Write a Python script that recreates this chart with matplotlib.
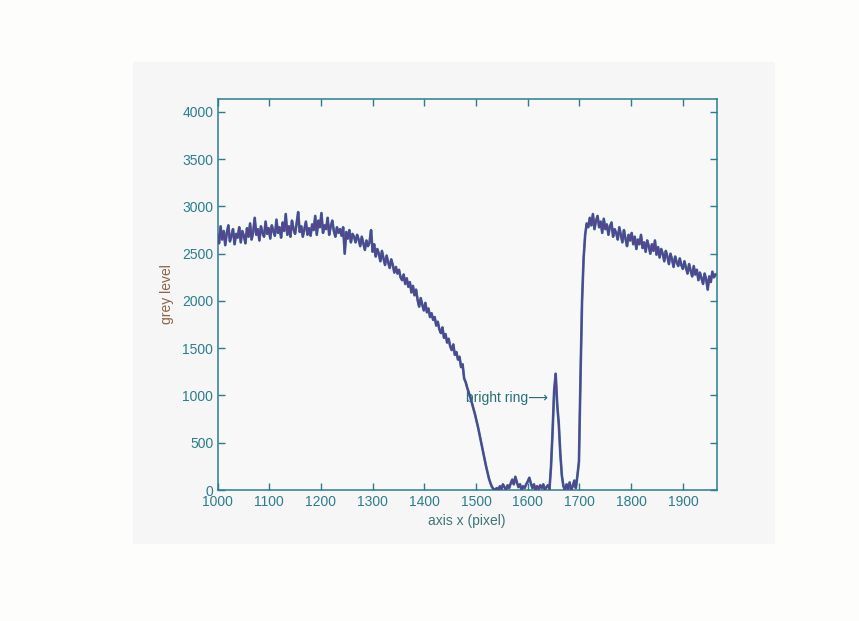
import numpy as np
import matplotlib
matplotlib.use("Agg")
import matplotlib.pyplot as plt
from matplotlib.patches import Rectangle

# ---- data, one value every 3 pixels ----
x_start = 1000
x_step = 3
grey_a = [2700, 2610, 2790, 2650, 2740, 2590, 2720, 2800, 2630, 2690,
          2760, 2600, 2710, 2670, 2780, 2620, 2740, 2690, 2610, 2770]
grey_b = [2680, 2820, 2650, 2730, 2880, 2700, 2760, 2640, 2790, 2720,
          2680, 2840, 2710, 2770, 2660, 2800, 2740, 2690, 2860, 2720]
grey_c = [2780, 2670, 2830, 2740, 2920, 2700, 2790, 2680, 2850, 2760,
          2710, 2820, 2940, 2730, 2790, 2680, 2760, 2840, 2700, 2770]
grey_d = [2690, 2810, 2750, 2900, 2700, 2850, 2780, 2930, 2720, 2800,
          2760, 2880, 2700, 2790, 2850, 2740, 2680, 2780, 2720, 2760]
grey_e = [2690, 2780, 2500, 2730, 2660, 2750, 2620, 2710, 2680, 2620,
          2700, 2650, 2580, 2680, 2610, 2540, 2640, 2580, 2620, 2750]
grey_f = [2520, 2600, 2470, 2550, 2500, 2420, 2530, 2450, 2380, 2480,
          2410, 2350, 2440, 2380, 2300, 2360, 2290, 2330, 2250, 2220]
grey_g = [2280, 2180, 2240, 2150, 2200, 2090, 2160, 2060, 2120, 2010,
          1940, 2030, 1960, 1900, 1980, 1880, 1920, 1830, 1870, 1800]
grey_h = [1830, 1740, 1780, 1700, 1660, 1720, 1610, 1650, 1560, 1600,
          1520, 1480, 1540, 1430, 1460, 1380, 1410, 1300, 1330, 1180]
grey_i = [1140, 1080, 1030, 980, 920, 860, 800, 730, 660, 580,
          500, 420, 340, 260, 190, 120, 70, 30, 10, 0]
grey_j = [20, 0, 40, 10, 60, 30, 0, 50, 20, 70,
          110, 60, 140, 80, 30, 60, 0, 40, 20, 60]
grey_k = [90, 130, 70, 20, 60, 0, 40, 10, 50, 20,
          60, 0, 30, 50, 10, 250, 620, 1050, 1230, 900]
grey_l = [700, 380, 150, 40, 0, 60, 10, 80, 0, 40,
          100, 20, 150, 300, 1200, 2000, 2450, 2700, 2820, 2780]
grey_m = [2880, 2800, 2920, 2760, 2850, 2900, 2780, 2840, 2720, 2870,
          2760, 2810, 2700, 2790, 2830, 2680, 2760, 2720, 2650, 2780]
grey_n = [2700, 2620, 2750, 2660, 2580, 2700, 2640, 2720, 2600, 2680,
          2550, 2650, 2600, 2700, 2560, 2620, 2520, 2640, 2580, 2500]
grey_o = [2600, 2530, 2640, 2490, 2570, 2460, 2550, 2500, 2420, 2530,
          2470, 2390, 2500, 2440, 2360, 2470, 2410, 2370, 2450, 2380]
grey_p = [2340, 2420, 2350, 2290, 2390, 2320, 2260, 2370, 2280, 2330,
          2220, 2300, 2240, 2180, 2290, 2230, 2120, 2260, 2200, 2310,
          2250, 2280]

x_ticks = [1000, 1100, 1200, 1300, 1400, 1500, 1600, 1700, 1800, 1900]
y_ticks = [0, 500, 1000, 1500, 2000, 2500, 3000, 3500, 4000]
annotation = "bright ring\u27f6"
annotation_pos = (1480, 975)

grey = (grey_a + grey_b + grey_c + grey_d + grey_e + grey_f + grey_g +
        grey_h + grey_i + grey_j + grey_k + grey_l + grey_m + grey_n +
        grey_o + grey_p)
xs = x_start + x_step * np.arange(len(grey))

# ---- styling ----
teal = "#2b7d8c"
fam = ["Liberation Sans", "DejaVu Sans"]
plt.rcParams["font.family"] = fam

fig = plt.figure(figsize=(8.59, 6.21), dpi=100, facecolor="#fdfdfb")
fig.patches.append(Rectangle((133 / 859, 1 - 544 / 621), (775 - 133) / 859,
                             (544 - 62) / 621, transform=fig.transFigure,
                             facecolor="#f6f6f6", edgecolor="none", zorder=-5))

ax = fig.add_axes([217.5 / 859, 1 - 490 / 621, (716.5 - 217.5) / 859,
                   (490 - 99) / 621])
ax.set_zorder(1)
ax.set_facecolor("#f8f8f8")

ax.plot(xs, grey, color="#2f86a0", lw=1.9, zorder=2)
ax.plot(xs, grey, color="#55448f", lw=1.4, zorder=3)

ax.set_xlim(1000, 1965)
ax.set_ylim(0, 4137)
ax.set_xticks(x_ticks)
ax.set_yticks(y_ticks)
ax.tick_params(direction="in", top=True, right=True, length=5, width=1,
               color=teal, labelcolor=teal, labelsize=10)
ax.tick_params(axis="y", pad=3)
for s in ax.spines.values():
    s.set_color(teal)
    s.set_linewidth(1.1)

ax.set_xlabel("axis x (pixel)", color="#3f7478", fontsize=10, labelpad=4)
ax.set_ylabel("grey level", color="#8a6448", fontsize=10, labelpad=6)

ax.text(annotation_pos[0], annotation_pos[1], annotation, color="#2a6f78",
        fontsize=10, va="center", ha="left", family=fam)

fig.savefig("out.png", dpi=100, facecolor=fig.get_facecolor())
